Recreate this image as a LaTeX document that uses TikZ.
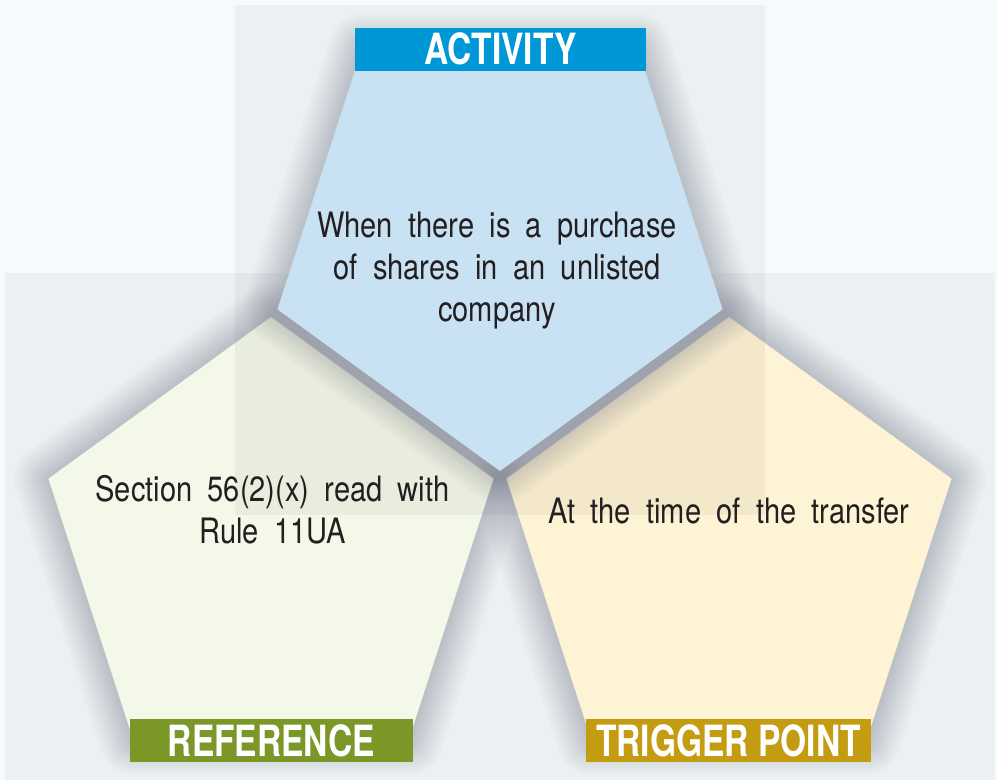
\documentclass[tikz,border=0pt]{standalone}
\usepackage{fontspec}
\setmainfont{TeX Gyre Heros}[FakeStretch=0.83, WordSpace=1.9]
\newfontfamily\labelfont{TeX Gyre Heros}[FakeStretch=0.78]
\definecolor{bg}{RGB}{245,250,253}
\definecolor{shadowc}{RGB}{110,116,132}
\definecolor{topfill}{RGB}{200,225,243}
\definecolor{leftfill}{RGB}{244,248,232}
\definecolor{rightfill}{RGB}{255,243,213}
\definecolor{actblue}{RGB}{0,151,215}
\definecolor{refgreen}{RGB}{122,151,40}
\definecolor{trigold}{RGB}{196,156,18}
\definecolor{txt}{RGB}{35,31,32}
\tikzset{
  panel/.style={fill=black, opacity=0.04},
  glow/.style={draw=shadowc, opacity=0.03, line join=round},
  bodytext/.style={font=\fontsize{35}{42}\selectfont, text=txt, inner sep=0pt},
  labelbox/.style={inner sep=0pt, text=white, minimum height=43pt,
    font=\labelfont\bfseries\fontsize{43}{43}\selectfont}
}
\begin{document}
\begin{tikzpicture}[x=1pt,y=-1pt]
\path[use as bounding box] (0,0) rectangle (997,780);
\fill[bg] (0,0) rectangle (997,780);
\fill[panel] (235,5) rectangle (765,515);
\fill[panel] (5,273) rectangle (995,780);

% pentagon corners
\path[shift={(500,237)}] \foreach \i in {0,...,4}{ (90+72*\i:234) coordinate (T\i) };
\path[shift={(271,551)}] \foreach \i in {0,...,4}{ (-90+72*\i:234) coordinate (L\i) };
\path[shift={(729,551)}] \foreach \i in {0,...,4}{ (-90+72*\i:234) coordinate (R\i) };

% bottom pentagons: glow + fill
\foreach \w in {68,62,56,50,44,38,33,28,23,18,14,10,6}{
  \draw[glow, line width=\w pt] (L0) -- (L1) -- (L2) -- (L3) -- (L4) -- cycle;
  \draw[glow, line width=\w pt] (R0) -- (R1) -- (R2) -- (R3) -- (R4) -- cycle;
}
\fill[leftfill] (L0) -- (L1) -- (L2) -- (L3) -- (L4) -- cycle;
\fill[rightfill] (R0) -- (R1) -- (R2) -- (R3) -- (R4) -- cycle;
\begin{scope}
  \clip (L0) -- (L1) -- (L2) -- (L3) -- (L4) -- cycle;
  \fill[black, opacity=0.045] (235,273) rectangle (765,515);
\end{scope}
\begin{scope}
  \clip (R0) -- (R1) -- (R2) -- (R3) -- (R4) -- cycle;
  \fill[black, opacity=0.045] (235,273) rectangle (765,515);
\end{scope}

% top pentagon: glow + fill
\foreach \w in {68,62,56,50,44,38,33,28,23,18,14,10,6}{
  \draw[glow, line width=\w pt] (T0) -- (T1) -- (T2) -- (T3) -- (T4) -- cycle;
}
\fill[topfill] (T0) -- (T1) -- (T2) -- (T3) -- (T4) -- cycle;

% texts
\node[bodytext, align=center] (acttext) at (497,271)
  {When there is a purchase\\of shares in an unlisted\\company};
\node[bodytext, align=center] (reftext) at (272.5,510)
  {Section 56(2)(x) read with\\Rule 11UA};
\node[bodytext, anchor=base] (tritext) at (729,523) {At the time of the transfer};

% labels
\node[labelbox, fill=actblue, minimum width=291pt] (act) at (500.5,49) {ACTIVITY};
\node[labelbox, fill=refgreen, minimum width=283pt] (ref) at (271.5,740.5) {REFERENCE};
\node[labelbox, fill=trigold, minimum width=285pt] (tri) at (728.5,740.5) {TRIGGER POINT};
\end{tikzpicture}
\end{document}
